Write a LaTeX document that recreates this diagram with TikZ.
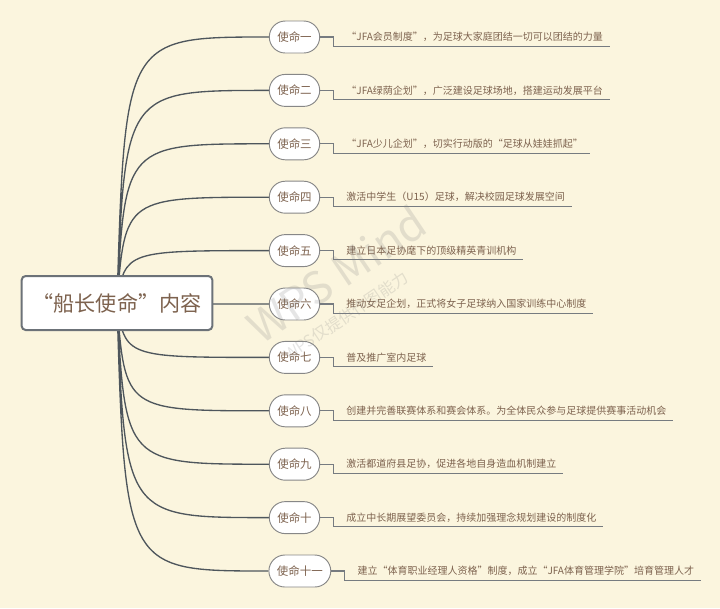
\documentclass[tikz,border=0pt]{standalone}
\usepackage{fontspec}
\setmainfont{Noto Sans CJK SC}
\usepackage{tikz}
\newcommand\missionword{使命}
\definecolor{paper}{RGB}{251,245,222}
\definecolor{inkbrown}{RGB}{125,98,78}
\definecolor{branchgray}{RGB}{78,86,92}
\definecolor{leadgray}{RGB}{118,123,128}
\definecolor{pillgray}{RGB}{135,135,135}
\definecolor{rootgray}{RGB}{108,114,120}
\tikzstyle{branch} = [draw=branchgray, line width=1pt]
\tikzstyle{leader} = [draw=leadgray, line width=0.8pt]
\usetikzlibrary{positioning}
\usetikzlibrary{backgrounds}

\begin{document}
\begin{tikzpicture}[x=0.75pt, y=-0.75pt,
                      node distance=40.05pt,
                      root node/.style={draw=rootgray, line width=1.5pt, fill=white, rounded corners=3pt,
                                        minimum width=143pt, minimum height=40.5pt,
                                        font=\fontsize{15.8pt}{18pt}\selectfont, text=inkbrown},
                      mission node/.style={draw=pillgray, line width=0.7pt, fill=white, rounded corners=12pt,
                                           minimum width=37.5pt, minimum height=24pt, inner xsep=6pt,
                                           font=\fontsize{8.6pt}{10pt}\selectfont, text=inkbrown},
                      note node/.style={font=\fontsize{7.5pt}{9pt}\selectfont, text=inkbrown,
                                        text height=6.5pt, text depth=1pt, inner xsep=5pt, inner ysep=3pt},
                      watermark/.style={text=gray, opacity=0.2, rotate=34}]

        \useasboundingbox (0,0) rectangle (720,608);

        \node[root node] (root) at (117,303) {“船长使命”内容};
        \coordinate (hub) at ([xshift=6pt]root.center);

        \node[mission node] (m1) at (294.5,37) {\missionword 一};
        \node[mission node] (m2) [below of=m1] {\missionword 二};
        \node[mission node] (m3) [below of=m2] {\missionword 三};
        \node[mission node] (m4) [below of=m3] {\missionword 四};
        \node[mission node] (m5) [below of=m4] {\missionword 五};
        \node[mission node] (m6) [below of=m5] {\missionword 六};
        \node[mission node] (m7) [below of=m6] {\missionword 七};
        \node[mission node] (m8) [below of=m7] {\missionword 八};
        \node[mission node] (m9) [below of=m8] {\missionword 九};
        \node[mission node] (m10) [below of=m9] {\missionword 十};
        \node[mission node] (m11) [below of=m10, xshift=4pt] {\missionword 十一};

        \node[note node] (t1) [right=14.5pt of m1] {“JFA会员制度”，为足球大家庭团结一切可以团结的力量};
        \node[note node] (t2) [right=14.5pt of m2] {“JFA绿荫企划”，广泛建设足球场地，搭建运动发展平台};
        \node[note node] (t3) [right=14.5pt of m3] {“JFA少儿企划”，切实行动版的“足球从娃娃抓起”};
        \node[note node] (t4) [right=14.5pt of m4] {激活中学生（U15）足球，解决校园足球发展空间};
        \node[note node] (t5) [right=14.5pt of m5] {建立日本足协麾下的顶级精英青训机构};
        \node[note node] (t6) [right=14.5pt of m6] {推动女足企划，正式将女子足球纳入国家训练中心制度};
        \node[note node] (t7) [right=14.5pt of m7] {普及推广室内足球};
        \node[note node] (t8) [right=14.5pt of m8] {创建并完善联赛体系和赛会体系。为全体民众参与足球提供赛事活动机会};
        \node[note node] (t9) [right=14.5pt of m9] {激活都道府县足协，促进各地自身造血机制建立};
        \node[note node] (t10) [right=14.5pt of m10] {成立中长期展望委员会，持续加强理念规划建设的制度化};
        \node[note node] (t11) [right=14.5pt of m11] {建立“体育职业经理人资格”制度，成立“JFA体育管理学院”培育管理人才};

        \begin{pgfonlayer}{background}
          \fill[paper] (0,0) rectangle (720,608);
          \draw[branch]
          (root.center) .. controls (hub |- m1) .. (m1.west)
          (root.center) .. controls (hub |- m2) .. (m2.west)
          (root.center) .. controls (hub |- m3) .. (m3.west)
          (root.center) .. controls (hub |- m4) .. (m4.west)
          (root.center) .. controls (hub |- m5) .. (m5.west)
          (root.center) .. controls (hub |- m6) .. (m6.west)
          (root.center) .. controls (hub |- m7) .. (m7.west)
          (root.center) .. controls (hub |- m8) .. (m8.west)
          (root.center) .. controls (hub |- m9) .. (m9.west)
          (root.center) .. controls (hub |- m10) .. (m10.west)
          (root.center) .. controls (hub |- m11) .. (m11.west)
          ;
        \end{pgfonlayer}

        \draw[leader]
        (m1.east) -- ++(10pt,0) |- (t1.south east)
        (m2.east) -- ++(10pt,0) |- (t2.south east)
        (m3.east) -- ++(10pt,0) |- (t3.south east)
        (m4.east) -- ++(10pt,0) |- (t4.south east)
        (m5.east) -- ++(10pt,0) |- (t5.south east)
        (m6.east) -- ++(10pt,0) |- (t6.south east)
        (m7.east) -- ++(10pt,0) |- (t7.south east)
        (m8.east) -- ++(10pt,0) |- (t8.south east)
        (m9.east) -- ++(10pt,0) |- (t9.south east)
        (m10.east) -- ++(10pt,0) |- (t10.south east)
        (m11.east) -- ++(10pt,0) |- (t11.south east)
        ;

        % faint stamp over the middle
        \node[watermark, font=\fontsize{33pt}{36pt}\selectfont] (wm1) at (336,274) {WPS Mind};
        \node[watermark, font=\fontsize{12pt}{14pt}\selectfont] (wm2) at (346,316) {WPS仅提供作图能力};
    \end{tikzpicture}
\end{document}
